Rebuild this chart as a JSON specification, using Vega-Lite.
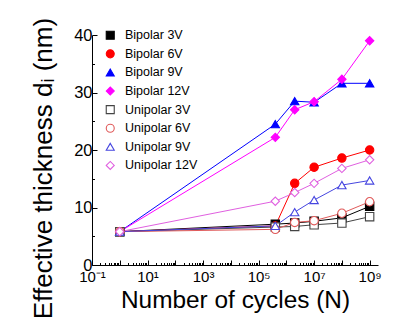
{
  "$schema": "https://vega.github.io/schema/vega-lite/v6.json",
  "width": 286,
  "height": 230,
  "autosize": {"type": "none"},
  "padding": {"left": 92, "top": 35, "right": 22, "bottom": 58},
  "config": {
    "view": {"stroke": null},
    "font": "Liberation Sans",
    "axis": {"domainColor": "#000", "tickColor": "#000", "labelColor": "#000", "titleColor": "#000", "grid": false, "labelFont": "Liberation Sans", "titleFont": "Liberation Sans", "titleFontWeight": "normal", "domainWidth": 1, "tickWidth": 1}
  },
  "data": {
    "values": [
      {"series": "Bipolar 3V", "N": 1, "d": 5.8},
      {"series": "Bipolar 3V", "N": 400000, "d": 7.1},
      {"series": "Bipolar 3V", "N": 2000000, "d": 7.3},
      {"series": "Bipolar 3V", "N": 10000000, "d": 7.6},
      {"series": "Bipolar 3V", "N": 100000000, "d": 8.2},
      {"series": "Bipolar 3V", "N": 1000000000, "d": 10.2},
      {"series": "Bipolar 6V", "N": 1, "d": 5.8},
      {"series": "Bipolar 6V", "N": 400000, "d": 6.8},
      {"series": "Bipolar 6V", "N": 2000000, "d": 14.2},
      {"series": "Bipolar 6V", "N": 10000000, "d": 17.0},
      {"series": "Bipolar 6V", "N": 100000000, "d": 18.6},
      {"series": "Bipolar 6V", "N": 1000000000, "d": 20.0},
      {"series": "Bipolar 9V", "N": 1, "d": 5.8},
      {"series": "Bipolar 9V", "N": 400000, "d": 24.5},
      {"series": "Bipolar 9V", "N": 2000000, "d": 28.5},
      {"series": "Bipolar 9V", "N": 10000000, "d": 28.3},
      {"series": "Bipolar 9V", "N": 100000000, "d": 31.6},
      {"series": "Bipolar 9V", "N": 1000000000, "d": 31.6},
      {"series": "Bipolar 12V", "N": 1, "d": 5.8},
      {"series": "Bipolar 12V", "N": 400000, "d": 22.2},
      {"series": "Bipolar 12V", "N": 2000000, "d": 27.0},
      {"series": "Bipolar 12V", "N": 10000000, "d": 28.4},
      {"series": "Bipolar 12V", "N": 100000000, "d": 32.3},
      {"series": "Bipolar 12V", "N": 1000000000, "d": 39.0},
      {"series": "Unipolar 3V", "N": 1, "d": 5.8},
      {"series": "Unipolar 3V", "N": 400000, "d": 6.6},
      {"series": "Unipolar 3V", "N": 2000000, "d": 6.7},
      {"series": "Unipolar 3V", "N": 10000000, "d": 7.0},
      {"series": "Unipolar 3V", "N": 100000000, "d": 7.3},
      {"series": "Unipolar 3V", "N": 1000000000, "d": 8.4},
      {"series": "Unipolar 6V", "N": 1, "d": 5.8},
      {"series": "Unipolar 6V", "N": 400000, "d": 6.2},
      {"series": "Unipolar 6V", "N": 2000000, "d": 7.4},
      {"series": "Unipolar 6V", "N": 10000000, "d": 7.7},
      {"series": "Unipolar 6V", "N": 100000000, "d": 9.0},
      {"series": "Unipolar 6V", "N": 1000000000, "d": 11.0},
      {"series": "Unipolar 9V", "N": 1, "d": 5.8},
      {"series": "Unipolar 9V", "N": 400000, "d": 6.8},
      {"series": "Unipolar 9V", "N": 2000000, "d": 9.2},
      {"series": "Unipolar 9V", "N": 10000000, "d": 11.3},
      {"series": "Unipolar 9V", "N": 100000000, "d": 13.9},
      {"series": "Unipolar 9V", "N": 1000000000, "d": 14.7},
      {"series": "Unipolar 12V", "N": 1, "d": 5.8},
      {"series": "Unipolar 12V", "N": 400000, "d": 11.1},
      {"series": "Unipolar 12V", "N": 2000000, "d": 12.6},
      {"series": "Unipolar 12V", "N": 10000000, "d": 14.2},
      {"series": "Unipolar 12V", "N": 100000000, "d": 16.8},
      {"series": "Unipolar 12V", "N": 1000000000, "d": 18.3}
    ]
  },
  "encoding": {
    "x": {
      "field": "N", "type": "quantitative",
      "scale": {"type": "log", "domain": [0.1, 2000000000], "nice": false},
      "axis": {
        "title": "Number of cycles (N)",
        "titleFontSize": 24.4,
        "titlePadding": 2,
        "labelFontSize": 15,
        "labelPadding": 9,
        "labelOverlap": false,
        "labelFlush": false,
        "values": [0.1,0.2,0.3,0.4,0.5,0.6,0.7,0.8,0.9,1,2,3,4,5,6,7,8,9,10,20,30,40,50,60,70,80,90,100,200,300,400,500,600,700,800,900,1000,2000,3000,4000,5000,6000,7000,8000,9000,10000,20000,30000,40000,50000,60000,70000,80000,90000,100000,200000,300000,400000,500000,600000,700000,800000,900000,1000000,2000000,3000000,4000000,5000000,6000000,7000000,8000000,9000000,10000000,20000000,30000000,40000000,50000000,60000000,70000000,80000000,90000000,100000000,200000000,300000000,400000000,500000000,600000000,700000000,800000000,900000000,1000000000],
        "tickSize": {"condition": {"test": "abs(log(datum.value)/LN10 - round(log(datum.value)/LN10)) < 0.001", "value": -5}, "value": -2.5},
        "labelExpr": "abs(log(datum.value)/LN10 - round(log(datum.value)/LN10)) > 0.001 ? '' : round(log(datum.value)/LN10) == -1 ? '10⁻¹' : round(log(datum.value)/LN10) == 1 ? '10¹' : round(log(datum.value)/LN10) == 3 ? '10³' : round(log(datum.value)/LN10) == 5 ? '10⁵' : round(log(datum.value)/LN10) == 7 ? '10⁷' : round(log(datum.value)/LN10) == 9 ? '10⁹' : ''"
      }
    },
    "y": {
      "field": "d", "type": "quantitative",
      "scale": {"domain": [0, 40], "nice": false},
      "axis": {
        "title": "Effective thickness dᵢ (nm)",
        "titleFontSize": 26,
        "titleX": -49,
        "titleY": 133,
        "titleBaseline": "middle",
        "labelFontSize": 16.5,
        "labelPadding": 5,
        "values": [0, 5, 10, 15, 20, 25, 30, 35, 40],
        "tickSize": {"condition": {"test": "datum.value % 10 == 0", "value": -5}, "value": -2.5},
        "labelExpr": "datum.value % 10 == 0 ? datum.label : ''"
      }
    }
  },
  "layer": [
    {
      "mark": {"type": "line", "strokeWidth": 1},
      "encoding": {
        "detail": {"field": "series"},
        "color": {
          "field": "series", "type": "nominal",
          "scale": {
            "domain": ["Unipolar 12V", "Unipolar 9V", "Unipolar 6V", "Unipolar 3V", "Bipolar 12V", "Bipolar 9V", "Bipolar 6V", "Bipolar 3V"],
            "range": ["#e060e0", "#4646e0", "#e05a5a", "#444444", "#ff00ff", "#0000ff", "#ff0000", "#000000"]
          },
          "legend": null
        }
      }
    },
    {
      "mark": {"type": "point", "filled": false, "size": 70, "strokeWidth": 1.1, "opacity": 1},
      "encoding": {
        "stroke": {
          "field": "series", "type": "nominal",
          "title": null,
          "scale": {
            "domain": ["Bipolar 3V", "Bipolar 6V", "Bipolar 9V", "Bipolar 12V", "Unipolar 3V", "Unipolar 6V", "Unipolar 9V", "Unipolar 12V"],
            "range": ["#000000", "#ff0000", "#0000ff", "#ff00ff", "#444444", "#e05a5a", "#4646e0", "#e060e0"]
          },
          "legend": {
            "orient": "none",
            "legendX": 12,
            "legendY": -6,
            "padding": 0,
            "symbolSize": 64,
            "symbolStrokeWidth": 1.1,
            "labelFontSize": 12.5,
            "labelFont": "Liberation Sans",
            "labelColor": "#000",
            "labelOffset": 8.5,
            "rowPadding": 5.6
          }
        },
        "fill": {
          "field": "series", "type": "nominal",
          "title": null,
          "scale": {
            "domain": ["Bipolar 3V", "Bipolar 6V", "Bipolar 9V", "Bipolar 12V", "Unipolar 3V", "Unipolar 6V", "Unipolar 9V", "Unipolar 12V"],
            "range": ["#000000", "#ff0000", "#0000ff", "#ff00ff", "#ffffff", "#ffffff", "#ffffff", "#ffffff"]
          }
        },
        "shape": {
          "field": "series", "type": "nominal",
          "title": null,
          "scale": {
            "domain": ["Bipolar 3V", "Bipolar 6V", "Bipolar 9V", "Bipolar 12V", "Unipolar 3V", "Unipolar 6V", "Unipolar 9V", "Unipolar 12V"],
            "range": ["square", "circle", "triangle-up", "diamond", "square", "circle", "triangle-up", "diamond"]
          }
        }
      }
    }
  ]
}
